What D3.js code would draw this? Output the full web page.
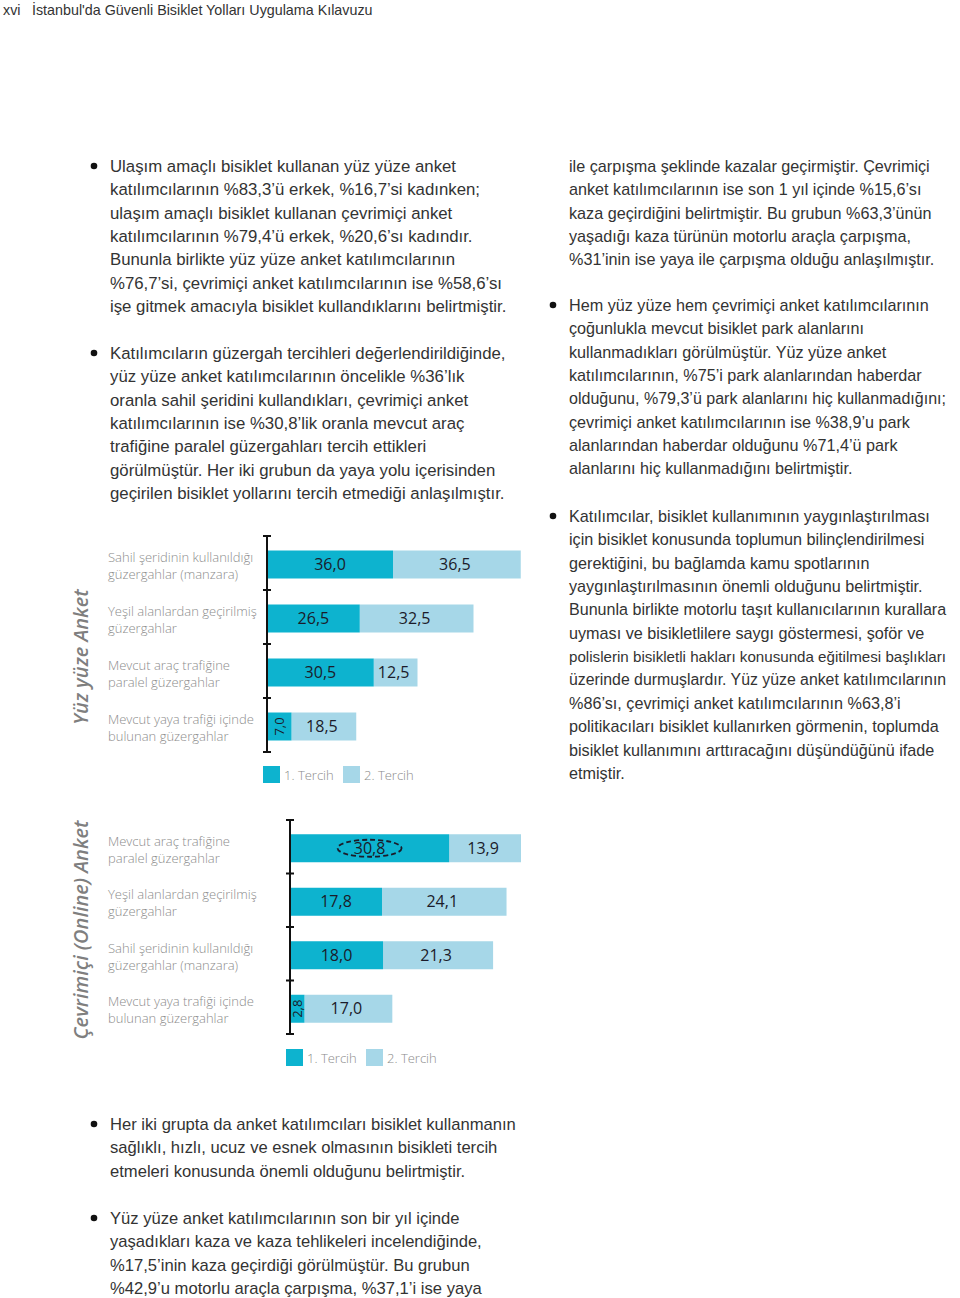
<!DOCTYPE html>
<html><head><meta charset="utf-8">
<script src="https://cdn.jsdelivr.net/npm/d3@7"></script>
<style>
html,body{margin:0;padding:0;background:#fff;}
svg{display:block;}
</style></head>
<body>
<script>
// ---------- DATA ----------
const headerPage = "xvi";
const headerTitle = "İstanbul'da Güvenli Bisiklet Yolları Uygulama Kılavuzu";

const chart1Title = "Yüz yüze Anket";
const chart1Categories = [
  ["Sahil şeridinin kullanıldığı", "güzergahlar (manzara)"],
  ["Yeşil alanlardan geçirilmiş", "güzergahlar"],
  ["Mevcut araç trafiğine", "paralel güzergahlar"],
  ["Mevcut yaya trafiği içinde", "bulunan güzergahlar"]
];
const chart1First = [36.0, 26.5, 30.5, 7.0];
const chart1Second = [36.5, 32.5, 12.5, 18.5];

const chart2Title = "Çevrimiçi (Online) Anket";
const chart2Categories = [
  ["Mevcut araç trafiğine", "paralel güzergahlar"],
  ["Yeşil alanlardan geçirilmiş", "güzergahlar"],
  ["Sahil şeridinin kullanıldığı", "güzergahlar (manzara)"],
  ["Mevcut yaya trafiği içinde", "bulunan güzergahlar"]
];
const chart2First = [30.8, 17.8, 18.0, 2.8];
const chart2Second = [13.9, 24.1, 21.3, 17.0];
const chart2Highlight = 0; // index of circled value

const legendLabels = ["1. Tercih", "2. Tercih"];

const leftParagraphs = [
  ["Ulaşım amaçlı bisiklet kullanan yüz yüze anket",
   "katılımcılarının %83,3’ü erkek, %16,7’si kadınken;",
   "ulaşım amaçlı bisiklet kullanan çevrimiçi anket",
   "katılımcılarının %79,4’ü erkek, %20,6’sı kadındır.",
   "Bununla birlikte yüz yüze anket katılımcılarının",
   "%76,7’si, çevrimiçi anket katılımcılarının ise %58,6’sı",
   "işe gitmek amacıyla bisiklet kullandıklarını belirtmiştir."],
  ["Katılımcıların güzergah tercihleri değerlendirildiğinde,",
   "yüz yüze anket katılımcılarının öncelikle %36’lık",
   "oranla sahil şeridini kullandıkları, çevrimiçi anket",
   "katılımcılarının ise %30,8’lik oranla mevcut araç",
   "trafiğine paralel güzergahları tercih ettikleri",
   "görülmüştür. Her iki grubun da yaya yolu içerisinden",
   "geçirilen bisiklet yollarını tercih etmediği anlaşılmıştır."]
];
const rightContinuation = [
  "ile çarpışma şeklinde kazalar geçirmiştir. Çevrimiçi",
  "anket katılımcılarının ise son 1 yıl içinde %15,6’sı",
  "kaza geçirdiğini belirtmiştir. Bu grubun %63,3’ünün",
  "yaşadığı kaza türünün motorlu araçla çarpışma,",
  "%31’inin ise yaya ile çarpışma olduğu anlaşılmıştır."
];
const rightParagraphs = [
  ["Hem yüz yüze hem çevrimiçi anket katılımcılarının",
   "çoğunlukla mevcut bisiklet park alanlarını",
   "kullanmadıkları görülmüştür. Yüz yüze anket",
   "katılımcılarının, %75’i park alanlarından haberdar",
   "olduğunu, %79,3’ü park alanlarını hiç kullanmadığını;",
   "çevrimiçi anket katılımcılarının ise %38,9’u park",
   "alanlarından haberdar olduğunu %71,4’ü park",
   "alanlarını hiç kullanmadığını belirtmiştir."],
  ["Katılımcılar, bisiklet kullanımının yaygınlaştırılması",
   "için bisiklet konusunda toplumun bilinçlendirilmesi",
   "gerektiğini, bu bağlamda kamu spotlarının",
   "yaygınlaştırılmasının önemli olduğunu belirtmiştir.",
   "Bununla birlikte motorlu taşıt kullanıcılarının kurallara",
   "uyması ve bisikletlilere saygı göstermesi, şoför ve",
   "polislerin bisikletli hakları konusunda eğitilmesi başlıkları",
   "üzerinde durmuşlardır. Yüz yüze anket katılımcılarının",
   "%86’sı, çevrimiçi anket katılımcılarının %63,8’i",
   "politikacıları bisiklet kullanırken görmenin, toplumda",
   "bisiklet kullanımını arttıracağını düşündüğünü ifade",
   "etmiştir."]
];
const bottomParagraphs = [
  ["Her iki grupta da anket katılımcıları bisiklet kullanmanın",
   "sağlıklı, hızlı, ucuz ve esnek olmasının bisikleti tercih",
   "etmeleri konusunda önemli olduğunu belirtmiştir."],
  ["Yüz yüze anket katılımcılarının son bir yıl içinde",
   "yaşadıkları kaza ve kaza tehlikeleri incelendiğinde,",
   "%17,5’inin kaza geçirdiği görülmüştür. Bu grubun",
   "%42,9’u motorlu araçla çarpışma, %37,1’i ise yaya"]
];

// ---------- STYLE ----------
const W = 960, H = 1298;
const C1 = "#0db3cf", C2 = "#a6d7e8";
const bodyFont = "'Liberation Sans', Arial, sans-serif";
const chartFont = "'Open Sans', 'Noto Sans', sans-serif";
const bodyColor = "#333";
const lineH = 23.35;

const svg = d3.select("body").append("svg").attr("width", W).attr("height", H);

// header
svg.append("text").attr("x", 3).attr("y", 15).text(headerPage)
  .attr("font-family", bodyFont).attr("font-size", 14.3).attr("fill", "#333");
svg.append("text").attr("x", 32).attr("y", 15).text(headerTitle)
  .attr("font-family", bodyFont).attr("font-size", 14.3).attr("fill", "#333");

// paragraphs
function paragraph(lines, x, y0, bullet, fs) {
  const g = svg.append("g");
  if (bullet) {
    g.append("circle").attr("cx", x - 16).attr("cy", y0 - 6).attr("r", 3.3).attr("fill", "#111");
  }
  g.selectAll("text").data(lines).join("text")
    .attr("x", x).attr("y", (d, i) => y0 + i * lineH)
    .attr("font-family", bodyFont).attr("font-size", fs)
    .attr("fill", bodyColor).text(d => d)
    .each(function () {
      const maxW = W - 14 - x;
      const w = this.getComputedTextLength();
      if (w > maxW) d3.select(this).attr("font-size", fs * maxW / w);
    });
}
paragraph(leftParagraphs[0], 110, 172, true, 16.8);
paragraph(leftParagraphs[1], 110, 359, true, 16.8);
paragraph(rightContinuation, 569, 172, false, 16.2);
paragraph(rightParagraphs[0], 569, 311, true, 16.2);
paragraph(rightParagraphs[1], 569, 522, true, 16.2);
paragraph(bottomParagraphs[0], 110, 1130, true, 16.6);
paragraph(bottomParagraphs[1], 110, 1224, true, 16.6);

// ---------- CHARTS ----------
function fmt(v) { return d3.format(".1f")(v).replace(".", ","); }

function drawChart(opts) {
  const { cats, first, second, axisX, yTop, yBot, xMax, xRight, title, titleY, legendY, highlight } = opts;
  const g = svg.append("g");
  const names = cats.map(c => c.join(" "));
  const y = d3.scaleBand().domain(names).range([yTop, yBot]).paddingInner(0).paddingOuter(0);
  const x = d3.scaleLinear().domain([0, xMax]).range([axisX, xRight]);
  const barH = 28, off = (y.bandwidth() - barH) / 2 + 1.5;

  const rows = names.map((n, i) => ({ n, cat: cats[i], a: first[i], b: second[i], i }));

  // second-preference bars
  g.selectAll(".b2").data(rows).join("rect")
    .attr("x", d => x(d.a)).attr("y", d => y(d.n) + off)
    .attr("width", d => x(d.a + d.b) - x(d.a)).attr("height", barH).attr("fill", C2);
  // first-preference bars
  g.selectAll(".b1").data(rows).join("rect")
    .attr("x", x(0)).attr("y", d => y(d.n) + off)
    .attr("width", d => x(d.a) - x(0)).attr("height", barH).attr("fill", C1);

  // axis
  const axis = d3.axisLeft(y).tickSize(0).tickFormat("");
  const ax = g.append("g").attr("transform", `translate(${axisX},0)`).call(axis);
  ax.select(".domain").remove();
  ax.append("line").attr("x1", 0).attr("x2", 0).attr("y1", yTop).attr("y2", yBot)
    .attr("stroke", "#111").attr("stroke-width", 2);
  const bounds = names.map(n => y(n)).concat([yBot]);
  ax.selectAll(".bt").data(bounds).join("line")
    .attr("x1", -4).attr("x2", 4).attr("y1", d => d).attr("y2", d => d)
    .attr("stroke", "#111").attr("stroke-width", 2);

  // value labels
  const cy = d => y(d.n) + off + barH / 2;
  rows.forEach(d => {
    const w1 = x(d.a) - x(0);
    const cx1 = (x(0) + x(d.a)) / 2;
    if (w1 < 30) {
      g.append("text").attr("transform", `translate(${cx1 + 4.5},${cy(d)}) rotate(-90)`)
        .attr("text-anchor", "middle").attr("font-family", chartFont).attr("font-size", 13)
        .attr("fill", "#1b1b2a").text(fmt(d.a));
    } else {
      g.append("text").attr("x", cx1).attr("y", cy(d) + 5.5).attr("text-anchor", "middle")
        .attr("font-family", chartFont).attr("font-size", 16).attr("fill", "#1b1b2a").text(fmt(d.a));
    }
    g.append("text").attr("x", (x(d.a) + x(d.a + d.b)) / 2 - 2).attr("y", cy(d) + 5.5)
      .attr("text-anchor", "middle").attr("font-family", chartFont).attr("font-size", 16)
      .attr("fill", "#1b1b2a").text(fmt(d.b));
    if (highlight === d.i) {
      g.append("ellipse").attr("cx", cx1).attr("cy", cy(d)).attr("rx", 32).attr("ry", 8.5)
        .attr("fill", "none").attr("stroke", "#1b1b2a").attr("stroke-width", 1.8)
        .attr("stroke-dasharray", "5,3");
    }
    // category labels
    g.selectAll(null).data(d.cat).join("text")
      .attr("x", 108).attr("y", (t, k) => cy(d) - 2.5 + k * 17)
      .attr("font-family", chartFont).attr("font-size", 13).attr("font-weight", 300)
      .attr("fill", "#8c8c8c").text(t => t);
  });

  // vertical title
  g.append("text").attr("transform", `translate(88,${titleY}) rotate(-90)`)
    .attr("text-anchor", "middle").attr("font-family", chartFont).attr("font-size", 20)
    .attr("font-style", "italic").attr("font-weight", 600).attr("fill", "#7f7f7f").text(title);

  // legend
  const lg = g.append("g").attr("transform", `translate(${axisX - 4},${legendY})`);
  legendLabels.forEach((lab, k) => {
    lg.append("rect").attr("x", k * 80).attr("y", 0).attr("width", 17).attr("height", 17)
      .attr("fill", k === 0 ? C1 : C2);
    lg.append("text").attr("x", k * 80 + 21).attr("y", 14).attr("font-family", chartFont)
      .attr("font-size", 13).attr("font-weight", 300).attr("fill", "#8c8c8c").text(lab);
  });
}

drawChart({ cats: chart1Categories, first: chart1First, second: chart1Second,
  axisX: 267, yTop: 536, yBot: 752, xMax: 72.5, xRight: 520.75,
  title: chart1Title, titleY: 657, legendY: 766, highlight: -1 });

drawChart({ cats: chart2Categories, first: chart2First, second: chart2Second,
  axisX: 290, yTop: 820, yBot: 1034, xMax: 44.7, xRight: 521,
  title: chart2Title, titleY: 930, legendY: 1049, highlight: chart2Highlight });
</script>
</body></html>
